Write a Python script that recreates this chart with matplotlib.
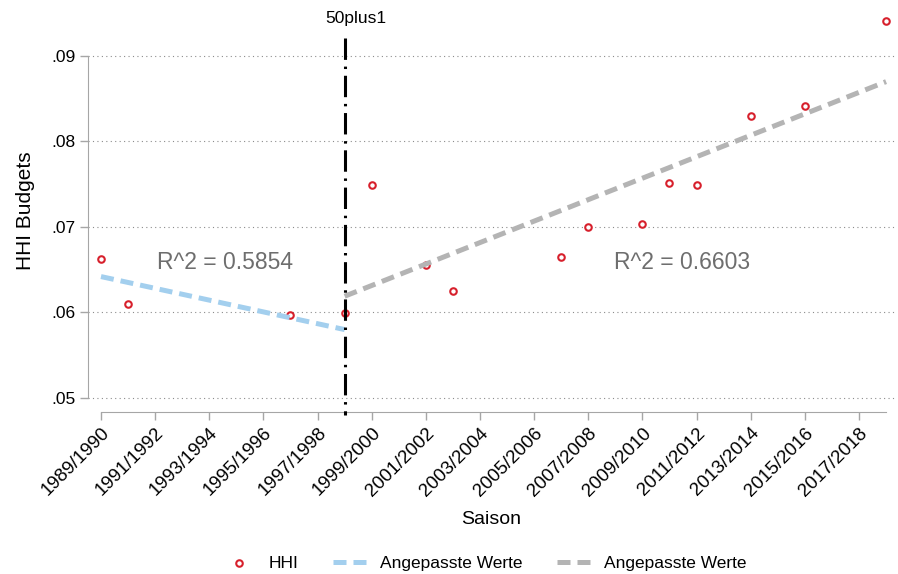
import matplotlib
matplotlib.use('Agg')
import matplotlib.pyplot as plt

plt.rcParams['font.family'] = ['Liberation Sans', 'DejaVu Sans']

# Datenpunkte (Saisonbeginn, HHI)
years = [1989, 1990, 1996, 1998, 1999, 2001, 2002, 2006, 2007, 2009, 2010, 2011, 2013, 2015, 2018]
hhi = [0.0663, 0.0610, 0.0597, 0.0599, 0.0749, 0.0656, 0.0625, 0.0665, 0.0700, 0.0704,
       0.0751, 0.0749, 0.0830, 0.0841, 0.0941]

# Angepasste Werte (lineare Fits vor / nach 50plus1)
fit1_years = [1989, 1998]
fit1_vals = [0.0642, 0.0580]
fit2_years = [1998, 2018]
fit2_vals = [0.0619, 0.0870]

tick_years = [1989, 1991, 1993, 1995, 1997, 1999, 2001, 2003, 2005, 2007, 2009, 2011, 2013, 2015, 2017]
tick_labels = ['1989/1990', '1991/1992', '1993/1994', '1995/1996', '1997/1998', '1999/2000',
               '2001/2002', '2003/2004', '2005/2006', '2007/2008', '2009/2010', '2011/2012',
               '2013/2014', '2015/2016', '2017/2018']
y_ticks = [0.05, 0.06, 0.07, 0.08, 0.09]
y_labels = ['.05', '.06', '.07', '.08', '.09']

W, H = 898, 574
fig = plt.figure(figsize=(W / 100, H / 100), dpi=100)
ax = fig.add_axes([88 / W, 1 - 412 / H, (895 - 88) / W, (412 - 10) / H])

axis_col = '#a6a6a6'

ax.scatter(years, hhi, s=22, facecolors='white', edgecolors='#d7202c', linewidths=1.5,
           zorder=3, clip_on=False, label='HHI')
ax.plot(fit1_years, fit1_vals, color='#a3cfee', lw=3.6, dashes=(2.6, 1.4),
        zorder=4, label='Angepasste Werte')
ax.plot(fit2_years, fit2_vals, color='#b4b4b4', lw=3.6, dashes=(2.6, 1.4),
        zorder=4, label='Angepasste Werte')

# 50plus1 Linie
ax.plot([1998, 1998], [0.0921, 0.0480], color='black', lw=2.2,
        dashes=(7, 2.2, 0.8, 2.2), zorder=5, clip_on=False)
ax.text(1998.43, 0.0944, '50plus1', ha='center', va='center', fontsize=12.5)

ax.text(1993.58, 0.0658, 'R^2 = 0.5854', ha='center', va='center', fontsize=16.5, color='#6e6e6e')
ax.text(2010.46, 0.0658, 'R^2 = 0.6603', ha='center', va='center', fontsize=16.5, color='#6e6e6e')

ax.set_xlim(1988.52, 2018.33)
ax.set_ylim(0.04836, 0.09538)

ax.set_yticks(y_ticks)
ax.set_yticklabels(y_labels, fontsize=12.5)
ax.set_xticks(tick_years)
ax.set_xticklabels(tick_labels, fontsize=13.5, rotation=45, ha='right', rotation_mode='anchor')

ax.yaxis.grid(True, linestyle=(0, (1, 3)), color='#8c8c8c', lw=0.8)
ax.set_axisbelow(True)

for s in ['top', 'right']:
    ax.spines[s].set_visible(False)
ax.spines['left'].set_bounds(0.05, 0.09)
ax.spines['bottom'].set_bounds(1989, 2018)
ax.spines['left'].set_color(axis_col)
ax.spines['bottom'].set_color(axis_col)
ax.tick_params(axis='both', color=axis_col, length=6, width=1)
ax.tick_params(axis='x', pad=3)
ax.tick_params(axis='y', pad=3)

ax.set_ylabel('HHI Budgets', fontsize=15, labelpad=12)
ax.set_xlabel('Saison', fontsize=14, labelpad=8)

handles, labels = ax.get_legend_handles_labels()
fig.legend(handles, labels, loc='center', bbox_to_anchor=(484 / W, 1 - 563 / H), ncol=3,
           frameon=False, fontsize=12.5, handlelength=2.0, columnspacing=2.0,
           handletextpad=0.7, markerscale=1.0)

fig.savefig('out.png', dpi=100)
